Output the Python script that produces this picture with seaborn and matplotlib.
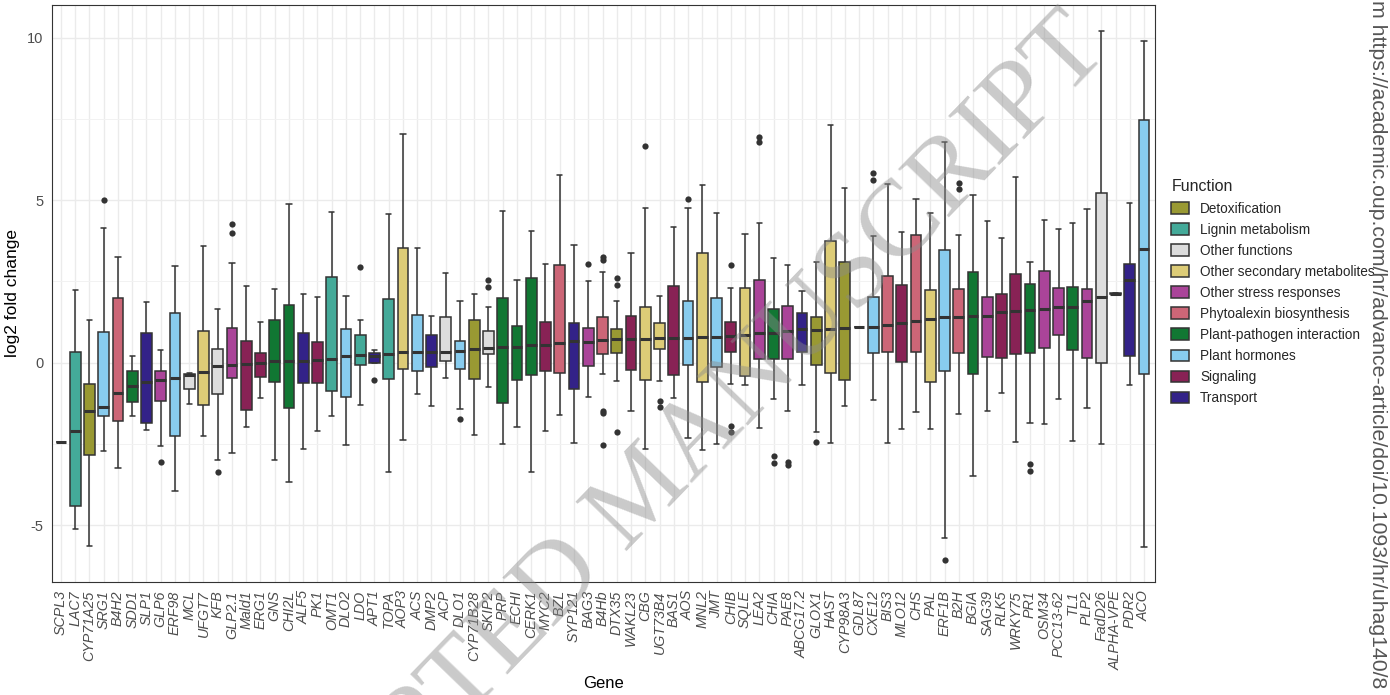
import numpy as np
import pandas as pd
import matplotlib
matplotlib.use("Agg")
import matplotlib.pyplot as plt
import seaborn as sns
from matplotlib.ticker import FixedLocator

# ---------------- data ----------------
genes = ["SCPL3", "LAC7", "CYP71A25", "SRG1", "B4H2", "SDD1", "SLP1", "GLP6", "ERF98", "MCL",
         "UFGT7", "KFB", "GLP2.1", "Mald1", "ERG1", "GNS", "CHI2L", "ALF5", "PK1", "OMT1",
         "DLO2", "LDO", "APT1", "TOPA", "AOP3", "ACS", "DMP2", "ACP", "DLO1", "CYP71B28",
         "SKIP2", "PRP", "ECHI", "CERK1", "MYC2", "BZL", "SYP121", "BAG3", "B4Hb", "DTX35",
         "WAKL23", "CBG", "UGT73B4", "BAS1", "AOS", "MNL2", "JMT", "CHIB", "SQLE", "LEA2",
         "CHIA", "PAE8", "ABCG17.2", "GLOX1", "HAST", "CYP98A3", "GDL87", "CXE12", "BIS3", "MLO12",
         "CHS", "PAL", "ERF1B", "B2H", "BGIA", "SAG39", "RLK5", "WRKY75", "PR1", "OSM34",
         "PCC13-62", "TL1", "PLP2", "FadD26", "ALPHA-VPE", "PDR2", "ACO"]

functions = ["Lignin metabolism", "Lignin metabolism", "Detoxification", "Plant hormones",
             "Phytoalexin biosynthesis", "Plant-pathogen interaction", "Transport", "Other stress responses",
             "Plant hormones", "Other functions", "Other secondary metabolites", "Other functions",
             "Other stress responses", "Signaling", "Signaling", "Plant-pathogen interaction",
             "Plant-pathogen interaction", "Transport", "Signaling", "Lignin metabolism",
             "Plant hormones", "Lignin metabolism", "Transport", "Lignin metabolism",
             "Other secondary metabolites", "Plant hormones", "Transport", "Other functions",
             "Plant hormones", "Detoxification", "Other functions", "Plant-pathogen interaction",
             "Plant-pathogen interaction", "Plant-pathogen interaction", "Signaling", "Phytoalexin biosynthesis",
             "Transport", "Other stress responses", "Phytoalexin biosynthesis", "Detoxification",
             "Signaling", "Other secondary metabolites", "Other secondary metabolites", "Signaling",
             "Plant hormones", "Other secondary metabolites", "Plant hormones", "Signaling",
             "Other secondary metabolites", "Other stress responses", "Plant-pathogen interaction", "Other stress responses",
             "Transport", "Detoxification", "Other secondary metabolites", "Detoxification",
             "Other functions", "Plant hormones", "Phytoalexin biosynthesis", "Signaling",
             "Phytoalexin biosynthesis", "Other secondary metabolites", "Plant hormones", "Phytoalexin biosynthesis",
             "Plant-pathogen interaction", "Other stress responses", "Signaling", "Signaling",
             "Plant-pathogen interaction", "Other stress responses", "Other stress responses", "Plant-pathogen interaction",
             "Other stress responses", "Other functions", "Transport", "Transport", "Plant hormones"]

whisker_low = [-2.45, -5.10, -5.64, -2.71, -3.23, -1.65, -2.06, -2.55, -3.95, -1.27,
               -2.24, -2.99, -2.78, -1.96, -1.08, -2.99, -3.66, -2.66, -2.11, -1.63,
               -2.53, -1.29, -0.01, -3.35, -2.37, -0.96, -1.32, -0.47, -1.42, -2.22,
               -0.74, -2.49, -1.96, -3.37, -2.11, -1.62, -2.46, -1.04, -0.36, -0.57,
               -1.47, -2.64, -0.55, -1.08, -2.32, -2.68, -2.49, -0.64, -0.67, -2.01,
               -1.11, -1.49, -0.69, -2.13, -2.47, -1.32, 1.11, -1.13, -2.47, -2.03,
               -1.51, -2.05, -5.40, -1.59, -3.49, -1.48, -0.93, -2.43, -1.84, -1.88,
               -1.10, -2.42, -1.40, -2.49, 2.10, -0.68, -5.66]
q1 = [-2.45, -4.41, -2.84, -1.63, -1.80, -1.21, -1.84, -1.19, -2.24, -0.82,
      -1.29, -0.96, -0.47, -1.44, -0.43, -0.59, -1.39, -0.61, -0.61, -0.88,
      -1.05, -0.07, -0.01, -0.49, -0.19, -0.24, -0.13, 0.04, -0.19, -0.51,
      0.26, -1.24, -0.53, -0.37, -0.25, -0.31, -0.81, -0.09, 0.28, 0.31,
      -0.21, -0.54, 0.41, -0.37, -0.08, -0.59, -0.14, 0.34, -0.41, 0.12,
      0.12, 0.12, 0.33, -0.08, -0.31, -0.54, 1.11, 0.29, 0.32, 0.03,
      0.32, -0.58, -0.25, 0.30, -0.33, 0.18, 0.16, 0.26, 0.30, 0.45,
      0.85, 0.38, 0.15, -0.01, 2.11, 0.22, -0.36]
median = [-2.45, -2.09, -1.47, -1.37, -0.93, -0.72, -0.59, -0.52, -0.47, -0.38,
          -0.28, -0.10, -0.07, -0.04, 0.00, 0.04, 0.07, 0.07, 0.09, 0.12,
          0.21, 0.24, 0.21, 0.28, 0.32, 0.32, 0.32, 0.34, 0.37, 0.41,
          0.44, 0.49, 0.49, 0.56, 0.56, 0.62, 0.66, 0.64, 0.70, 0.72,
          0.74, 0.74, 0.76, 0.77, 0.77, 0.80, 0.80, 0.82, 0.85, 0.93,
          0.93, 0.99, 1.03, 1.01, 1.03, 1.06, 1.11, 1.11, 1.16, 1.21,
          1.27, 1.36, 1.42, 1.42, 1.44, 1.44, 1.56, 1.58, 1.62, 1.66,
          1.73, 1.73, 1.90, 2.02, 2.13, 2.53, 3.51]
q3 = [-2.45, 0.33, -0.65, 0.95, 1.98, -0.26, 0.93, -0.24, 1.53, -0.36,
      0.98, 0.43, 1.08, 0.67, 0.31, 1.33, 1.78, 0.93, 0.64, 2.63,
      1.03, 0.85, 0.31, 1.96, 3.53, 1.46, 0.86, 1.41, 0.68, 1.33,
      0.97, 2.00, 1.14, 2.60, 1.26, 3.00, 1.22, 1.07, 1.42, 1.05,
      1.44, 1.70, 1.22, 2.37, 1.90, 3.37, 2.00, 1.24, 2.29, 2.54,
      1.65, 1.75, 1.52, 1.41, 3.75, 3.10, 1.11, 2.03, 2.67, 2.38,
      3.93, 2.23, 3.48, 2.28, 2.78, 2.02, 2.10, 2.73, 2.42, 2.82,
      2.30, 2.33, 2.28, 5.22, 2.15, 3.05, 7.46]
whisker_high = [-2.45, 2.25, 1.32, 4.14, 3.25, 0.21, 1.88, 0.39, 2.97, -0.31,
                3.59, 1.66, 3.06, 2.35, 1.25, 2.28, 4.88, 2.10, 2.01, 4.63,
                2.04, 1.33, 0.38, 4.57, 7.03, 3.53, 1.43, 2.76, 1.90, 2.13,
                1.71, 4.67, 2.56, 4.05, 3.03, 5.76, 3.62, 2.52, 2.80, 1.91,
                3.38, 4.77, 2.06, 4.16, 4.76, 5.48, 4.61, 2.29, 3.96, 4.30,
                3.22, 3.02, 2.22, 3.11, 7.32, 5.38, 1.11, 3.90, 5.51, 4.02,
                5.05, 4.59, 6.79, 3.93, 5.17, 4.36, 3.83, 5.70, 3.10, 4.40,
                4.10, 4.31, 4.73, 10.21, 2.16, 4.90, 9.89]

outlier_genes = ["SRG1", "GLP6", "KFB", "GLP2.1", "GLP2.1", "LDO", "APT1", "DLO1",
                 "SKIP2", "SKIP2", "BAG3", "B4Hb", "B4Hb", "B4Hb", "B4Hb", "B4Hb",
                 "DTX35", "DTX35", "DTX35", "CBG", "UGT73B4", "UGT73B4", "AOS",
                 "CHIB", "CHIB", "CHIB", "LEA2", "LEA2", "CHIA", "CHIA", "PAE8", "PAE8",
                 "GLOX1", "CXE12", "CXE12", "ERF1B", "B2H", "B2H", "PR1", "PR1"]
outlier_values = [5.00, -3.05, -3.36, 4.28, 3.99, 2.96, -0.52, -1.73,
                  2.55, 2.34, 3.04, 3.25, 3.16, -1.47, -1.55, -2.54,
                  2.60, 2.39, -2.14, 6.65, -1.19, -1.36, 5.05,
                  3.02, -1.94, -2.14, 6.93, 6.80, -2.87, -3.07, -3.04, -3.14,
                  -2.43, 5.82, 5.62, -6.06, 5.53, 5.34, -3.12, -3.34]

function_order = ["Detoxification", "Lignin metabolism", "Other functions",
                  "Other secondary metabolites", "Other stress responses",
                  "Phytoalexin biosynthesis", "Plant-pathogen interaction",
                  "Plant hormones", "Signaling", "Transport"]
function_colors = ["#999933", "#44AA99", "#DDDDDD", "#DDCC77", "#AA4499",
                   "#CC6677", "#117733", "#88CCEE", "#882255", "#332288"]

# ---------------- long-form table built from the arrays ----------------
rows = []
for g, f, lo, a, m, b, hi in zip(genes, functions, whisker_low, q1, median, q3, whisker_high):
    for v in (lo, a, m, b, hi):
        rows.append((g, f, v))
df = pd.DataFrame(rows, columns=["Gene", "Function", "log2FC"])
out_df = pd.DataFrame({"Gene": outlier_genes, "log2FC": outlier_values})

# ---------------- figure ----------------
sns.set_theme(style="whitegrid")
plt.rcParams["font.family"] = ["Liberation Sans", "DejaVu Sans"]

W, H = 1390, 695
fig = plt.figure(figsize=(W / 100, H / 100), dpi=100)
ax = fig.add_axes([52 / W, 1 - 582 / H, (1155 - 52) / W, (582 - 5) / H])
ax.set_facecolor("white")

sns.boxplot(data=df, x="Gene", y="log2FC", hue="Function", order=genes,
            hue_order=function_order, palette=dict(zip(function_order, function_colors)),
            dodge=False, whis=np.inf, width=0.75, saturation=1,
            linecolor="#333333", linewidth=1.1,
            medianprops=dict(linewidth=2.2, color="#333333"), ax=ax)

sns.stripplot(data=out_df, x="Gene", y="log2FC", order=genes, jitter=False,
              color="#333333", size=4.5, ax=ax, zorder=4)

ax.set_xlim(-0.63, len(genes) - 1 + 0.77)
ax.set_ylim(-6.74, 11.0)
ax.set_yticks([-5, 0, 5, 10])
ax.set_yticklabels(["-5", "0", "5", "10"], fontsize=10.5, color="#4D4D4D")
ax.yaxis.set_minor_locator(FixedLocator([-2.5, 2.5, 7.5]))
ax.set_xticks(range(len(genes)))
ax.set_xticklabels(genes, rotation=90, fontstyle="italic", fontsize=10.3, color="#4D4D4D")

ax.grid(True, which="major", color="#EBEBEB", linewidth=1.0)
ax.grid(True, which="minor", axis="y", color="#F2F2F2", linewidth=0.7)
ax.set_axisbelow(True)
ax.tick_params(axis="both", which="major", length=4, width=0.8, color="#333333",
               direction="out", pad=2)
ax.tick_params(axis="y", which="minor", length=0)
for s in ax.spines.values():
    s.set_visible(True)
    s.set_color("#333333")
    s.set_linewidth(0.8)

ax.set_xlabel("Gene", fontsize=12, color="black", labelpad=4)
ax.set_ylabel("log2 fold change", fontsize=12.5, color="black", labelpad=5)

sns.move_legend(ax, "upper left", bbox_to_anchor=(1166 / W, 1 - 174 / H),
                bbox_transform=fig.transFigure, frameon=False, title="Function",
                fontsize=9.8, title_fontsize=11.5, handlelength=1.3, handleheight=0.95,
                labelspacing=0.52, alignment="left", borderaxespad=0)

# watermark and side text present in the reference image
fig.text(645 / W, 1 - 495 / H, "ACCEPTED MANUSCRIPT", rotation=46, rotation_mode="anchor",
         ha="center", va="center", fontsize=78, family="Liberation Serif",
         color="#8A8A8A", alpha=0.45, zorder=10)
fig.text(1378 / W, 1.0, "m https://academic.oup.com/hr/advance-article/doi/10.1093/hr/uhag140/8",
         rotation=-90, ha="center", va="top", fontsize=15.3, color="#555555")

fig.savefig("out.png", dpi=100)
